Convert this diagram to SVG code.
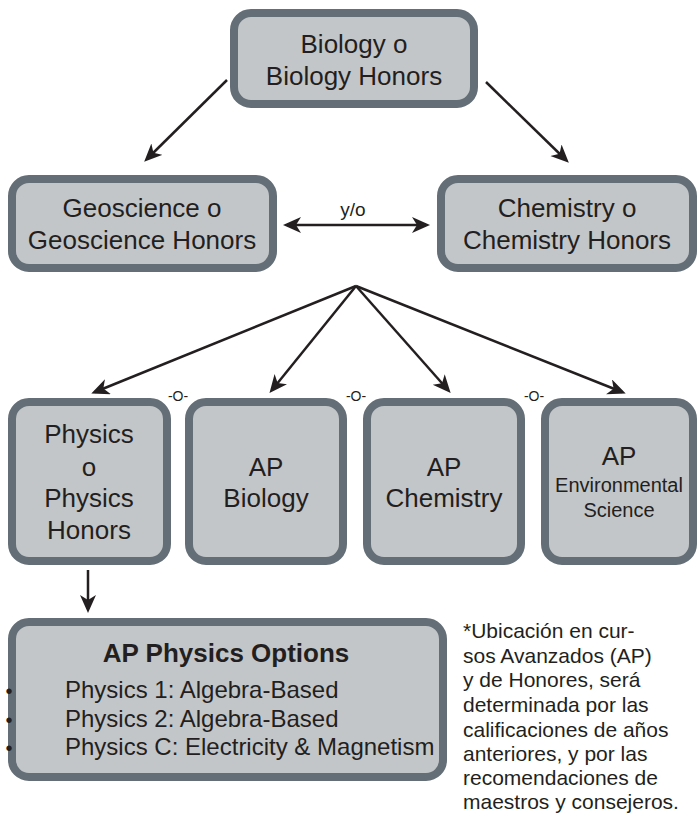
<svg xmlns="http://www.w3.org/2000/svg" width="698" height="825" viewBox="0 0 698 825">
<style>
.box{fill:#c3c6c9;stroke:#646e76;stroke-width:8}
.t{font-family:"Liberation Sans",Arial,sans-serif;fill:#231f20;text-anchor:middle}
.t26{font-size:26px}
.sep{font-size:14px}
.ln{stroke:#231f20;stroke-width:2.5;fill:none}
.note{font-family:"Liberation Sans",Arial,sans-serif;fill:#231f20;font-size:21px}
</style>
<defs>
<marker id="ah" markerUnits="userSpaceOnUse" markerWidth="20" markerHeight="18" refX="14" refY="8" orient="auto-start-reverse">
<path d="M0,0 L18,8 L0,16 L5,8 z" fill="#231f20"/>
</marker>
</defs>
<g id="connectors">
<line class="ln" x1="227" y1="80" x2="147" y2="159" marker-end="url(#ah)"/>
<line class="ln" x1="486" y1="82" x2="566" y2="160" marker-end="url(#ah)"/>
<line class="ln" x1="287" y1="225" x2="426" y2="225" marker-start="url(#ah)" marker-end="url(#ah)"/>
<line class="ln" x1="356" y1="286" x2="95" y2="392" marker-end="url(#ah)"/>
<line class="ln" x1="356" y1="286" x2="272" y2="390" marker-end="url(#ah)"/>
<line class="ln" x1="356" y1="286" x2="448" y2="390" marker-end="url(#ah)"/>
<line class="ln" x1="356" y1="286" x2="622" y2="392" marker-end="url(#ah)"/>
<line class="ln" x1="88" y1="570" x2="88" y2="609" marker-end="url(#ah)"/>
<text class="t" x="353" y="216" font-size="19">y/o</text>
<text class="t sep" x="178" y="401">-O-</text>
<text class="t sep" x="356" y="401">-O-</text>
<text class="t sep" x="534" y="401">-O-</text>
</g>
<g id="biology">
<rect class="box" x="234" y="13" width="240" height="91" rx="17"/>
<text class="t t26" x="354" y="53">Biology o</text>
<text class="t t26" x="354" y="85">Biology Honors</text>
</g>
<g id="geoscience">
<rect class="box" x="12" y="179" width="261" height="89" rx="17"/>
<text class="t t26" x="142" y="217">Geoscience o</text>
<text class="t t26" x="142" y="249">Geoscience Honors</text>
</g>
<g id="chemistry">
<rect class="box" x="441" y="179" width="252" height="89" rx="17"/>
<text class="t t26" x="567" y="217">Chemistry o</text>
<text class="t t26" x="567" y="249">Chemistry Honors</text>
</g>
<g id="physics">
<rect class="box" x="12" y="402" width="155" height="159" rx="17"/>
<text class="t t26" x="89" y="443">Physics</text>
<text class="t t26" x="89" y="476">o</text>
<text class="t t26" x="89" y="507">Physics</text>
<text class="t t26" x="89" y="539">Honors</text>
</g>
<g id="ap-biology">
<rect class="box" x="189" y="402" width="154" height="159" rx="17"/>
<text class="t t26" x="266" y="476">AP</text>
<text class="t t26" x="266" y="507">Biology</text>
</g>
<g id="ap-chemistry">
<rect class="box" x="367" y="402" width="154" height="159" rx="17"/>
<text class="t t26" x="444" y="476">AP</text>
<text class="t t26" x="444" y="507">Chemistry</text>
</g>
<g id="ap-environmental">
<rect class="box" x="545" y="402" width="148" height="159" rx="17"/>
<text class="t t26" x="619" y="465">AP</text>
<text class="t" x="619" y="492" font-size="20">Environmental</text>
<text class="t" x="619" y="517" font-size="20">Science</text>
</g>
<g id="ap-physics-options">
<rect class="box" x="12" y="622" width="431" height="155" rx="17"/>
<text class="t" x="226" y="662" font-size="26" font-weight="bold">AP Physics Options</text>
<text class="t" x="9" y="698" font-size="20">•</text>
<text class="t" x="9" y="727" font-size="20">•</text>
<text class="t" x="9" y="755" font-size="20">•</text>
<text class="t" x="65" y="698" font-size="24" style="text-anchor:start">Physics 1: Algebra-Based</text>
<text class="t" x="65" y="727" font-size="24" style="text-anchor:start">Physics 2: Algebra-Based</text>
<text class="t" x="65" y="755" font-size="24" style="text-anchor:start">Physics C: Electricity &amp; Magnetism</text>
</g>
<g id="note">
<text class="note" x="463" y="638">*Ubicación en cur-</text>
<text class="note" x="463" y="663">sos Avanzados (AP)</text>
<text class="note" x="463" y="687">y de Honores, será</text>
<text class="note" x="463" y="712">determinada por las</text>
<text class="note" x="463" y="737">calificaciones de años</text>
<text class="note" x="463" y="761">anteriores, y por las</text>
<text class="note" x="463" y="785">recomendaciones de</text>
<text class="note" x="463" y="809">maestros y consejeros.</text>
</g>
</svg>
